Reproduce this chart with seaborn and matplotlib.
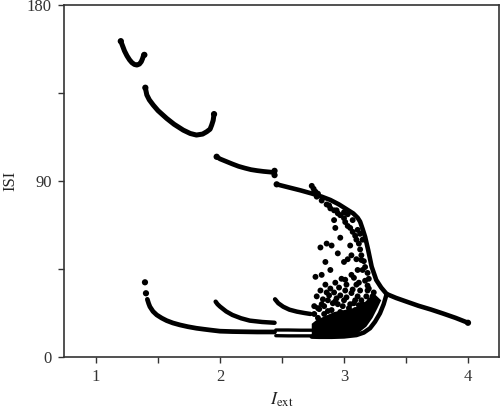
import numpy as np
import pandas as pd
import matplotlib
matplotlib.use("Agg")
import matplotlib.pyplot as plt
import seaborn as sns

sns.set_style("ticks")
plt.rcParams["font.family"] = ["Liberation Serif", "DejaVu Serif"]
plt.rcParams["mathtext.fontset"] = "stix"

# ---- branches (continuous curves) ----
a_x = [1.20, 1.215, 1.23, 1.25, 1.27, 1.29, 1.31, 1.33, 1.35, 1.365, 1.375, 1.385]
a_y = [161.5, 159.0, 156.5, 154.0, 152.0, 150.5, 149.6, 149.3, 149.8, 151.0, 152.5, 154.5]

b_x = [1.398, 1.405, 1.41, 1.43, 1.462, 1.50, 1.57, 1.63, 1.704, 1.76, 1.81,
       1.86, 1.893, 1.92, 1.933, 1.945, 1.952]
b_y = [137.7, 135.5, 134.0, 131.5, 128.8, 126.0, 122.0, 119.0, 116.0, 114.3,
       113.5, 114.0, 115.2, 116.5, 118.6, 121.0, 124.2]

c_x = [1.973, 2.0, 2.05, 2.10, 2.15, 2.20, 2.25, 2.30, 2.35, 2.40, 2.44]
c_y = [102.4, 101.3, 100.0, 98.7, 97.5, 96.6, 95.8, 95.3, 94.9, 94.6, 94.3]

d_x = [2.457, 2.55, 2.65, 2.74, 2.82, 2.89, 2.96, 3.01, 3.075, 3.11, 3.13, 3.15,
       3.17, 3.195, 3.223, 3.26, 3.30, 3.344]
d_y = [88.3, 86.8, 85.2, 83.6, 82.0, 80.3, 78.0, 76.0, 73.4, 71.2, 69.2, 65.5,
       61.5, 54.7, 46.2, 39.4, 35.5, 32.2]

e_x = [3.344, 3.42, 3.505, 3.60, 3.70, 3.80, 3.90, 4.00]
e_y = [32.2, 30.2, 28.3, 26.2, 24.3, 22.2, 20.0, 17.5]

f_x = [3.344, 3.32, 3.29, 3.25, 3.21, 3.16, 3.10, 3.00, 2.90, 2.80, 2.74]
f_y = [32.2, 27.0, 22.3, 18.0, 14.7, 12.5, 11.2, 10.5, 10.3, 10.3, 10.4]

g_x = [1.414, 1.425, 1.435, 1.46, 1.49, 1.53, 1.57, 1.62, 1.677, 1.74, 1.81,
       1.87, 1.92, 2.0, 2.1, 2.2, 2.3, 2.44]
g_y = [29.5, 27.3, 25.7, 23.3, 21.5, 19.9, 18.6, 17.4, 16.4, 15.5, 14.7,
       14.2, 13.8, 13.2, 13.0, 12.9, 12.8, 12.8]

h_x = [1.965, 1.98, 2.0, 2.05, 2.1, 2.17, 2.24, 2.34, 2.44]
h_y = [28.3, 27.0, 25.8, 23.3, 21.5, 19.8, 18.6, 17.9, 17.5]

i_x = [2.444, 2.47, 2.51, 2.56, 2.62, 2.68, 2.73]
i_y = [29.5, 27.5, 25.7, 24.2, 23.2, 22.5, 22.0]

j1_x = [2.45, 2.55, 2.65, 2.74]
j1_y = [13.8, 13.8, 13.7, 13.7]
j2_x = [2.45, 2.55, 2.65, 2.74]
j2_y = [10.9, 10.8, 10.8, 10.8]

# isolated end dots
end_x = [1.20, 1.39, 1.398, 1.952, 1.973, 2.44, 2.44, 1.395, 1.403, 2.457, 4.0]
end_y = [161.5, 154.5, 137.7, 124.2, 102.4, 95.2, 93.0, 38.2, 32.6, 88.3, 17.5]

# chaotic region: scattered dots
ch_x = [2.74, 2.755, 2.77, 2.76, 2.78, 2.79, 2.82, 2.86, 2.89, 2.92, 2.95, 2.97,
        3.00, 3.01, 3.03, 3.05, 3.07, 3.09, 3.10, 3.11, 3.07, 3.03, 3.00, 2.94,
        2.88, 3.12, 3.13, 3.14, 3.16, 3.17, 3.19, 3.20, 3.15, 3.13,
        2.92, 2.93, 2.97, 2.86, 2.90, 2.81, 2.89, 2.85, 3.00, 2.95, 3.05, 3.06,
        3.03, 3.10, 3.11, 3.06, 3.02, 2.98, 2.93, 2.89, 2.85, 2.81, 2.78, 2.77,
        2.82, 2.92, 2.97, 3.01, 3.06, 3.10, 3.11, 3.13, 3.15, 3.14, 3.17, 2.79,
        2.82, 2.87, 2.95, 3.00, 3.05, 3.09, 3.18, 3.19, 3.15, 2.76, 2.84, 2.90,
        2.97, 3.03, 3.09, 3.13, 3.17, 3.21, 3.23, 2.80, 2.84, 2.87, 2.91, 2.99,
        3.04, 3.08, 3.12, 3.16, 3.22, 2.83, 2.88, 2.94, 3.02, 3.07, 3.14, 3.19,
        2.76, 2.79, 2.86, 2.93, 2.96, 3.01, 3.08, 3.12, 3.20, 3.24]
ch_y = [87.5, 86.0, 84.5, 84.0, 82.0, 83.5, 80.0, 78.0, 76.0, 75.0, 73.5, 72.5,
        71.0, 69.0, 67.0, 66.0, 64.0, 62.0, 60.0, 65.0, 70.0, 73.0, 74.0, 75.0,
        77.5, 58.0, 55.0, 52.0, 49.0, 46.0, 43.0, 40.0, 60.0, 63.0,
        70.0, 66.0, 61.0, 58.0, 57.0, 56.0, 44.5, 48.6, 48.6, 53.0, 57.0, 52.0,
        50.0, 50.0, 44.5, 42.0, 37.0, 40.0, 38.0, 35.0, 37.0, 34.0, 31.0, 41.0,
        42.0, 33.0, 31.5, 34.0, 32.7, 37.0, 31.0, 34.0, 44.5, 49.6, 39.0, 20.0,
        27.0, 29.0, 27.0, 29.0, 27.0, 29.0, 31.0, 34.0, 27.0, 22.0, 22.0, 24.0,
        23.0, 22.0, 24.0, 21.5, 26.0, 29.0, 31.0, 24.5, 26.0, 23.5, 27.5, 26.0,
        25.0, 27.5, 26.5, 23.0, 27.0, 29.5, 31.5, 30.0, 30.5, 34.5, 29.0, 36.5,
        26.0, 25.0, 33.0, 28.5, 35.5, 39.5, 40.5, 38.0, 35.0, 33.0]

# dense band outline of the chaotic region
band_x = [2.74, 2.85, 2.95, 3.05, 3.12, 3.18, 3.23, 3.27, 3.30, 3.25, 3.20,
          3.15, 3.08, 3.00, 2.92, 2.85, 2.78, 2.74]
band_y = [10.0, 9.8, 10.0, 10.5, 12.5, 15.5, 20.0, 25.0, 29.0, 32.0, 30.0,
          27.0, 25.0, 24.0, 23.0, 21.0, 19.0, 17.0]

x_ticks = [1, 1.5, 2, 2.5, 3, 3.5, 4]
x_labels = ["1", "", "2", "", "3", "", "4"]
y_ticks = [0, 45, 90, 135, 180]
y_labels = ["0", "", "90", "", "180"]

fig = plt.figure(figsize=(5.0, 4.13), dpi=100)
ax = fig.add_axes([0.128, 0.1356, 0.870, 0.8523])

branches = [(a_x, a_y, 3.6), (b_x, b_y, 3.6), (c_x, c_y, 3.4), (d_x, d_y, 3.3),
            (e_x, e_y, 3.3), (f_x, f_y, 3.2), (g_x, g_y, 3.4), (h_x, h_y, 3.2),
            (i_x, i_y, 3.2), (j1_x, j1_y, 2.4), (j2_x, j2_y, 2.4)]
for bx, by, lw in branches:
    df = pd.DataFrame({"x": bx, "y": by})
    sns.lineplot(data=df, x="x", y="y", sort=False, estimator=None,
                 color="black", lw=lw, solid_capstyle="round",
                 solid_joinstyle="round", ax=ax)

ax.fill(band_x, band_y, color="black", lw=0)

sns.scatterplot(x=ch_x, y=ch_y, s=18, color="black", edgecolor="none", ax=ax)
sns.scatterplot(x=end_x, y=end_y, s=20, color="black", edgecolor="none", ax=ax)

ax.set_xlim(0.742, 4.25)
ax.set_ylim(0, 180)
ax.set_xticks(x_ticks)
ax.set_xticklabels(x_labels)
ax.set_yticks(y_ticks)
ax.set_yticklabels(y_labels)
ax.tick_params(axis="both", direction="out", length=4, width=1.0,
               labelsize=12, pad=5, colors="#333333", labelcolor="#333333")
ax.tick_params(top=False, right=False)
for s in ax.spines.values():
    s.set_visible(True)
    s.set_linewidth(1.2)
    s.set_color("#333333")

ax.set_xlabel(r"$I_{\mathrm{ext}}$", fontsize=13, color="#222222", labelpad=4)
ax.set_ylabel("ISI", fontsize=12, color="#222222", labelpad=6)

fig.savefig("out.png", dpi=100)
